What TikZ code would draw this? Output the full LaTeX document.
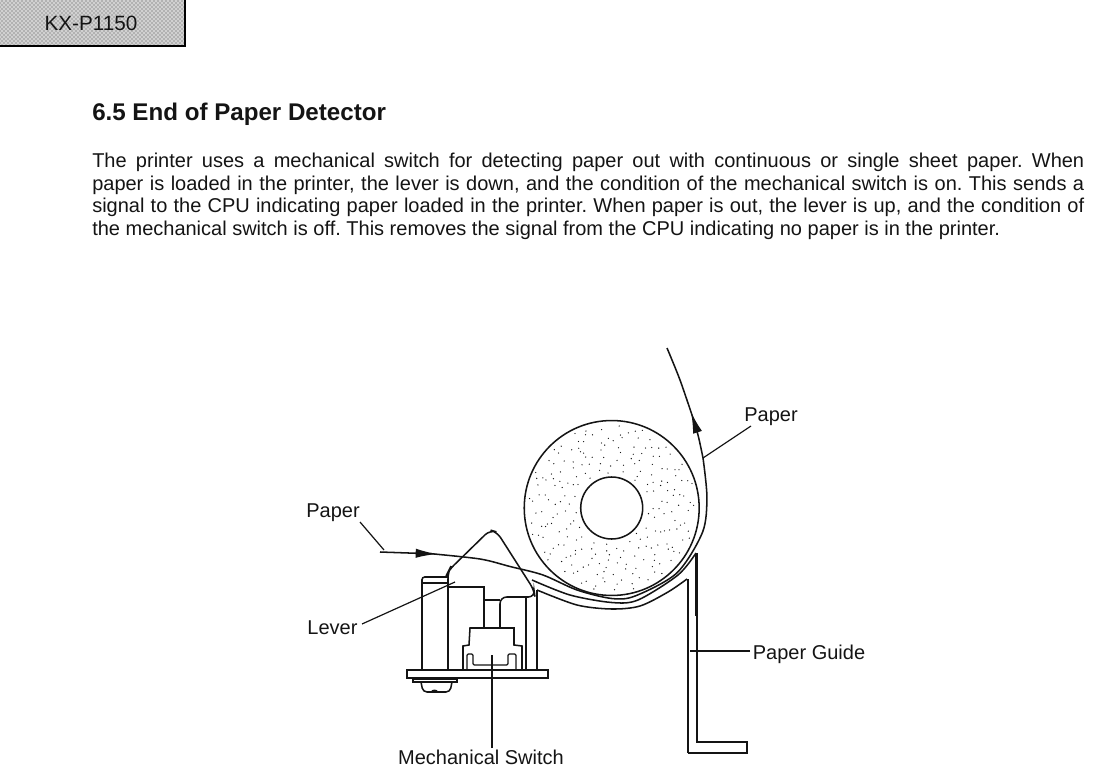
\documentclass[tikz,border=0pt]{standalone}
\usepackage{fontspec}
\setmainfont{Liberation Sans}
\usetikzlibrary{arrows.meta,patterns}
\definecolor{inkblack}{RGB}{20,20,20}

\begin{document}
\begin{tikzpicture}[
  x=0.75pt,y=-0.75pt,
  line/.style={draw=inkblack,line width=1.15pt},
  thin line/.style={draw=inkblack,line width=0.9pt},
  thick line/.style={draw=inkblack,line width=1.7pt},
  leader/.style={draw=inkblack,line width=0.9pt},
  label/.style={inner sep=0pt,font=\fontsize{15}{17}\selectfont,text=inkblack},
  paper arrow/.style={-{Latex[length=16pt,width=7pt]}},
]
  \useasboundingbox (0,0) rectangle (1099,767);
  % header tab
  \fill[black!18] (0,0) rectangle (185,46);
  \fill[pattern=crosshatch dots,pattern color=black!70] (0,0) rectangle (185,46);
  \draw[line width=1.2pt] (0,46)--(185,46)--(185,0);
  \node[inner sep=0pt,font=\fontsize{15.5}{17}\selectfont,text=inkblack] (model) at (91,23) {KX-P1150};
  % heading and text
  \node[inner sep=0pt,anchor=west,font=\fontsize{18.1}{20}\bfseries\selectfont,text=inkblack] (heading) at (92,114) {6.5 End of Paper Detector};
  \node[inner sep=0pt,anchor=north west,text width=744pt,align=justify,font=\fontsize{15}{16.9}\selectfont,text=inkblack] (body) at (92,153)
    {\frenchspacing The printer uses a mechanical switch for detecting paper out with continuous or single sheet paper. When\linebreak
     paper is loaded in the printer, the lever is down, and the condition of the mechanical switch is on. This sends a\linebreak
     signal to the CPU indicating paper loaded in the printer. When paper is out, the lever is up, and the condition of\linebreak
     the mechanical switch is off. This removes the signal from the CPU indicating no paper is in the printer.};

  % paper roll
  \coordinate (rollc) at (611.7,508);
  \draw[line] (rollc) circle[radius=65.6pt];
  \pgfmathsetseed{1150}
  \foreach \n in {1,...,280}{
    \pgfmathsetmacro{\ang}{2*mod(mod(\n,144)*68.75,180)+rnd*12}
    \pgfmathsetmacro{\rad}{sqrt(\n/280)*84}
    \ifdim\rad pt>35pt
      \fill[inkblack] (611.7,508) ++(\ang:\rad) circle[radius=0.5pt];
    \fi
  }
  \draw[line] (rollc) circle[radius=23.25pt];

  % paper path
  \draw[line,paper arrow] (380,552)--(437,554);
  \draw[line] plot[smooth] coordinates {(430,553.6) (480,559) (510,566.5) (543,575) (577,590) (611.7,598.5) (635.1,596) (676.8,573) (702.5,532.3) (706.9,497) (703,458)};
  \draw[line,paper arrow] plot[smooth,tension=0.5] coordinates {(703,458) (698,435) (691,412)};
  \draw[line] plot[smooth,tension=0.5] coordinates {(694,421) (680,380) (667,348)};

  % paper guide
  \draw[line] plot[smooth] coordinates {(532,580) (570,595) (611.7,602.5) (638,600) (678,575) (696,553)};
  \draw[thick line] (696.5,553)--(696.5,616);
  \draw[line] (697,616)--(697,742)--(747,742)--(747,753)--(688,753);
  \draw[thick line] (688,753)--(688,650);
  \draw[line] (688,650)--(688,579);
  \draw[line] plot[smooth] coordinates {(537,590) (577,605) (611.7,609) (640,606) (668,592) (687,579)};

  % lever
  \draw[line,rounded corners=5pt] (448,670)--(448,572)--(449,570)--(490,530)--(497,532)--(534,590)--(535,597)--(500,597)--(500,628);
  \draw[line] (448,587)--(484,587)--(484,628);
  \draw[line] (484,600)--(500,600);
  % cylinder
  \draw[line,rounded corners=2pt] (422,670)--(422,577)--(448,577);
  \draw[line] (422,583)--(448,583);
  \draw[line] (526,597)--(526,670);
  \draw[line] (537,590)--(537,670);
  % switch
  \draw[line] (463,670)--(463,646)--(469,645)--(470,628)--(514,628)--(514,645)--(522,646)--(522,670);
  \draw[thin line,rounded corners=1pt] (467,669)--(467,654)--(473,654)--(473,665)--(508,665)--(508,654)--(516,654)--(516,669);
  % base plate and screw
  \draw[line] (407,670) rectangle (548,678);
  \draw[line] (413,679) rectangle (457,682);
  \draw[line,rounded corners=3pt] (421,682)--(423,692)--(450,692)--(452,682);
  \draw[thin line] (431,692) .. controls (433,689.5) and (436,689.5) .. (438,692);

  % labels
  \node[label] (paperr) at (771,417) {Paper};
  \node[label] (paperl) at (333,513) {Paper};
  \node[label] (lever) at (332.5,628) {Lever};
  \node[label] (guide) at (809,654) {Paper Guide};
  \node[label] (switch) at (481,757) {Mechanical Switch};
  \coordinate (paperrstart) at (751,426);
  \coordinate (paperrend) at (703,458);
  \coordinate (paperlstart) at (360,522);
  \coordinate (paperlend) at (384,550);
  \coordinate (leverstart) at (362,624);
  \coordinate (leverend) at (455,582);
  \coordinate (guidestart) at (750,651);
  \coordinate (guideend) at (690,651);
  \coordinate (switchstart) at (492,748);
  \coordinate (switchend) at (492,655);
  \draw[leader] (paperrstart)--(paperrend);
  \draw[leader] (paperlstart)--(paperlend);
  \draw[leader] (leverstart)--(leverend);
  \draw[leader] (guidestart)--(guideend);
  \draw[leader] (switchstart)--(switchend);
\end{tikzpicture}
\end{document}
